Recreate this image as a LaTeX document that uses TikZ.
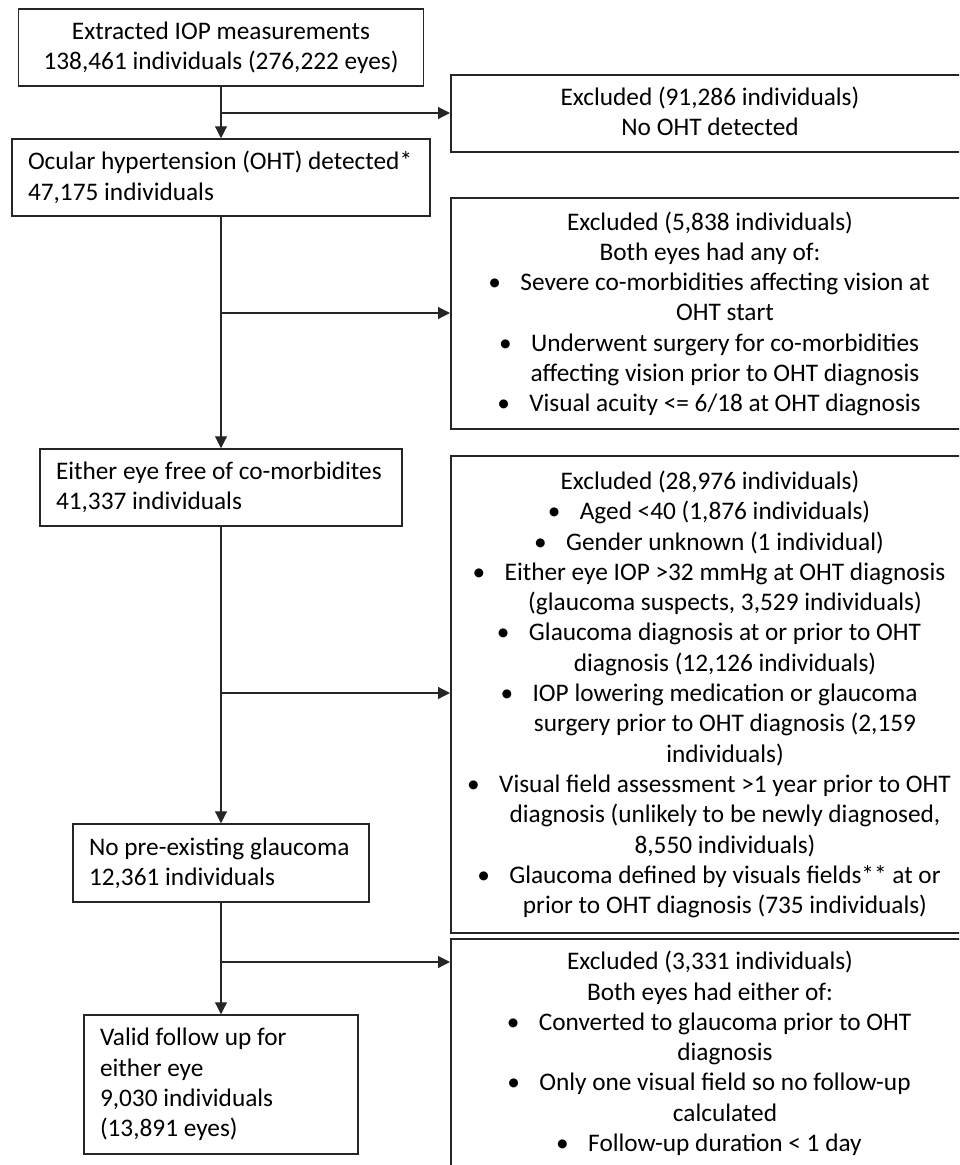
\documentclass[tikz,border=0pt]{standalone}
\usepackage{fontspec}
\setmainfont{Carlito}
\usetikzlibrary{arrows.meta,positioning}
\newcommand\flowfont{\fontsize{25.3}{30.3}\selectfont}
\tikzset{
    flowbox/.style={draw=black!85, line width=1.5pt, inner xsep=16pt, inner ysep=0pt, align=flush left, font=\flowfont},
    exclbox/.style={draw=black!85, line width=1.5pt, anchor=north west, minimum width=530pt, inner sep=0pt},
    exline/.style={inner sep=0pt, text height=16pt, text depth=0pt, font=\flowfont},
    flowarrow/.style={-{Triangle[length=12pt,width=12pt]}, line width=1.2pt, draw=black!85},
}
% h = heading line, b = first line of a bullet, c = continued bullet line
\newcommand\ExclLines[3]{%
    \foreach \kind/\txt [count=\i] in {#3} {
        \if\kind h\def\lx{710}\else\def\lx{725}\fi
        \node[exline] (#1-\i) at (\lx,{#2+30.3*(\i-1)}) {\txt};
        \if\kind b\node[exline, left=19pt of #1-\i.west] (#1-dot\i) {\textbullet};\fi
    }%
}

\begin{document}
\begin{tikzpicture}[x=1pt,y=-1pt]
    \useasboundingbox (0,0) rectangle (959,1165);
    \clip (0,0) rectangle (959,1165);
    % main column
    \node[flowbox, align=flush center, text width=373pt, minimum height=77pt] (extract) at (221,47.5)
        {Extracted IOP measurements\\138,461 individuals (276,222 eyes)};
    \node[flowbox, text width=386pt, minimum height=77pt] (oht) at (221,177.5)
        {Ocular hypertension (OHT) detected*\\47,175 individuals};
    \node[flowbox, text width=330pt, minimum height=77pt] (free) at (221,487.5)
        {Either eye free of co-morbidites\\41,337 individuals};
    \node[flowbox, text width=264pt, minimum height=78pt] (noglauc) at (221,863)
        {No pre-existing glaucoma\\12,361 individuals};
    \node[flowbox, text width=242pt, minimum height=139pt] (valid) at (221,1084.5)
        {Valid follow up for\\either eye\\9,030 individuals\\(13,891 eyes)};
    % exclusion boxes
    \node[exclbox, minimum height=77pt] (exclA) at (450,74) {};
    \node[exclbox, minimum height=231pt] (exclB) at (450,197) {};
    \node[exclbox, minimum height=477pt] (exclC) at (450,455) {};
    \node[exclbox, minimum height=240pt] (exclD) at (450,938) {};
    \ExclLines{exclA}{97.5}{
        h/{Excluded (91,286 individuals)},
        h/{No OHT detected}}
    \ExclLines{exclB}{222}{
        h/{Excluded (5,838 individuals)},
        h/{Both eyes had any of:},
        b/{Severe co-morbidities affecting vision at},
        c/{OHT start},
        b/{Underwent surgery for co-morbidities},
        c/{affecting vision prior to OHT diagnosis},
        b/{Visual acuity <= 6/18 at OHT diagnosis}}
    \ExclLines{exclC}{481.4}{
        h/{Excluded (28,976 individuals)},
        b/{Aged <40 (1,876 individuals)},
        b/{Gender unknown (1 individual)},
        b/{Either eye IOP >32 mmHg at OHT diagnosis},
        c/{(glaucoma suspects, 3,529 individuals)},
        b/{Glaucoma diagnosis at or prior to OHT},
        c/{diagnosis (12,126 individuals)},
        b/{IOP lowering medication or glaucoma},
        c/{surgery prior to OHT diagnosis (2,159},
        c/{individuals)},
        b/{Visual field assessment >1 year prior to OHT},
        c/{diagnosis (unlikely to be newly diagnosed,},
        c/{8,550 individuals)},
        b/{Glaucoma defined by visuals fields** at or},
        c/{prior to OHT diagnosis (735 individuals)}}
    \ExclLines{exclD}{961.7}{
        h/{Excluded (3,331 individuals)},
        h/{Both eyes had either of:},
        b/{Converted to glaucoma prior to OHT},
        c/{diagnosis},
        b/{Only one visual field so no follow-up},
        c/{calculated},
        b/{Follow-up duration < 1 day}}
    % connectors
    \coordinate (splitA) at (221,113);
    \coordinate (splitB) at (221,313);
    \coordinate (splitC) at (221,693);
    \coordinate (splitD) at (221,962);
    \draw[flowarrow] (extract) -- (oht);
    \draw[flowarrow] (oht) -- (free);
    \draw[flowarrow] (free) -- (noglauc);
    \draw[flowarrow] (noglauc) -- (valid);
    \draw[flowarrow] (splitA) -- (exclA.west |- splitA);
    \draw[flowarrow] (splitB) -- (exclB.west |- splitB);
    \draw[flowarrow] (splitC) -- (exclC.west |- splitC);
    \draw[flowarrow] (splitD) -- (exclD.west |- splitD);
\end{tikzpicture}
\end{document}
